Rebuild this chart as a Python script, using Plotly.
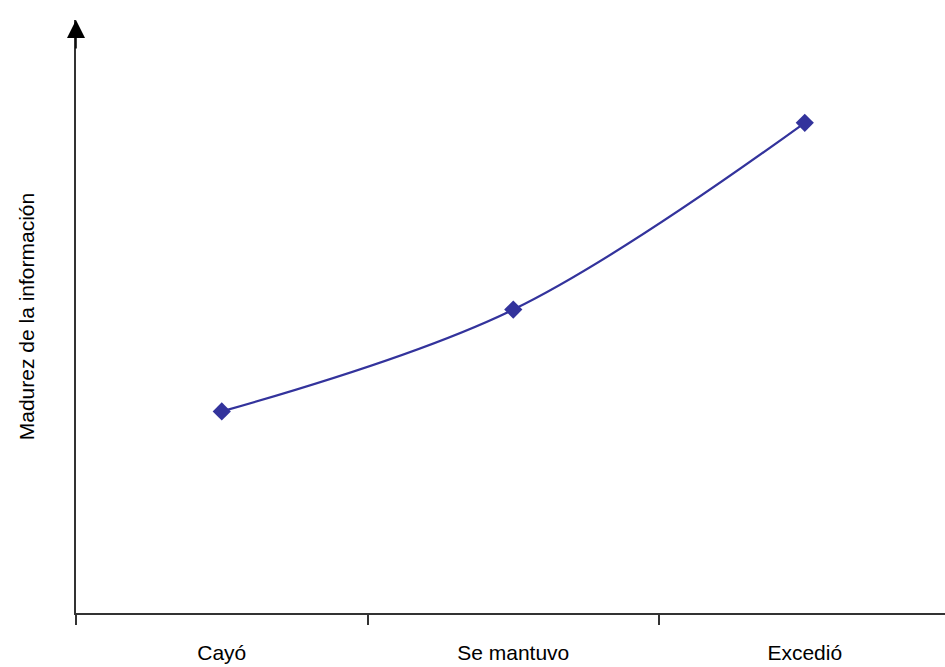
import plotly.graph_objects as go

categories = ["Cayó", "Se mantuvo", "Excedió"]
madurez = [2.04, 3.07, 4.96]
y_title = "Madurez de la información"

FONT = "Liberation Sans, Arial, sans-serif"
LINE_COLOR = "#33339c"
AXIS_COLOR = "#333333"

fig = go.Figure()
fig.add_trace(go.Scatter(
    x=categories, y=madurez, mode="lines+markers",
    line=dict(color=LINE_COLOR, width=2.2, shape="spline", smoothing=1),
    marker=dict(symbol="diamond", size=14, color=LINE_COLOR),
    showlegend=False, hoverinfo="skip",
))

fig.update_layout(
    width=945, height=667,
    margin=dict(l=76, r=0, t=20, b=54),
    paper_bgcolor="white", plot_bgcolor="white",
    font=dict(family=FONT, size=20, color="#000000"),
    xaxis=dict(
        type="category", range=[-0.5, 2.481],
        showline=True, linecolor=AXIS_COLOR, linewidth=1.5,
        ticks="outside", tickson="boundaries", ticklen=10, tickwidth=1.5,
        tickcolor=AXIS_COLOR, showgrid=False, zeroline=False,
        ticklabelstandoff=20, tickfont=dict(size=21),
    ),
    yaxis=dict(
        range=[0, 6], showline=True, linecolor=AXIS_COLOR, linewidth=1.5,
        showticklabels=False, ticks="", showgrid=False, zeroline=False,
        title=dict(text=y_title, standoff=34, font=dict(size=21)),
    ),
)

fig.add_annotation(
    xref="paper", yref="paper", x=0, y=1, ax=0, ay=30,
    showarrow=True, arrowhead=2, arrowsize=2.4, arrowwidth=1.5,
    arrowcolor="#000000", text="",
)

fig.write_html(
    "out.html",
    config={"displayModeBar": False},
    post_script="document.body.style.margin='0px';document.body.style.overflow='hidden';",
)
